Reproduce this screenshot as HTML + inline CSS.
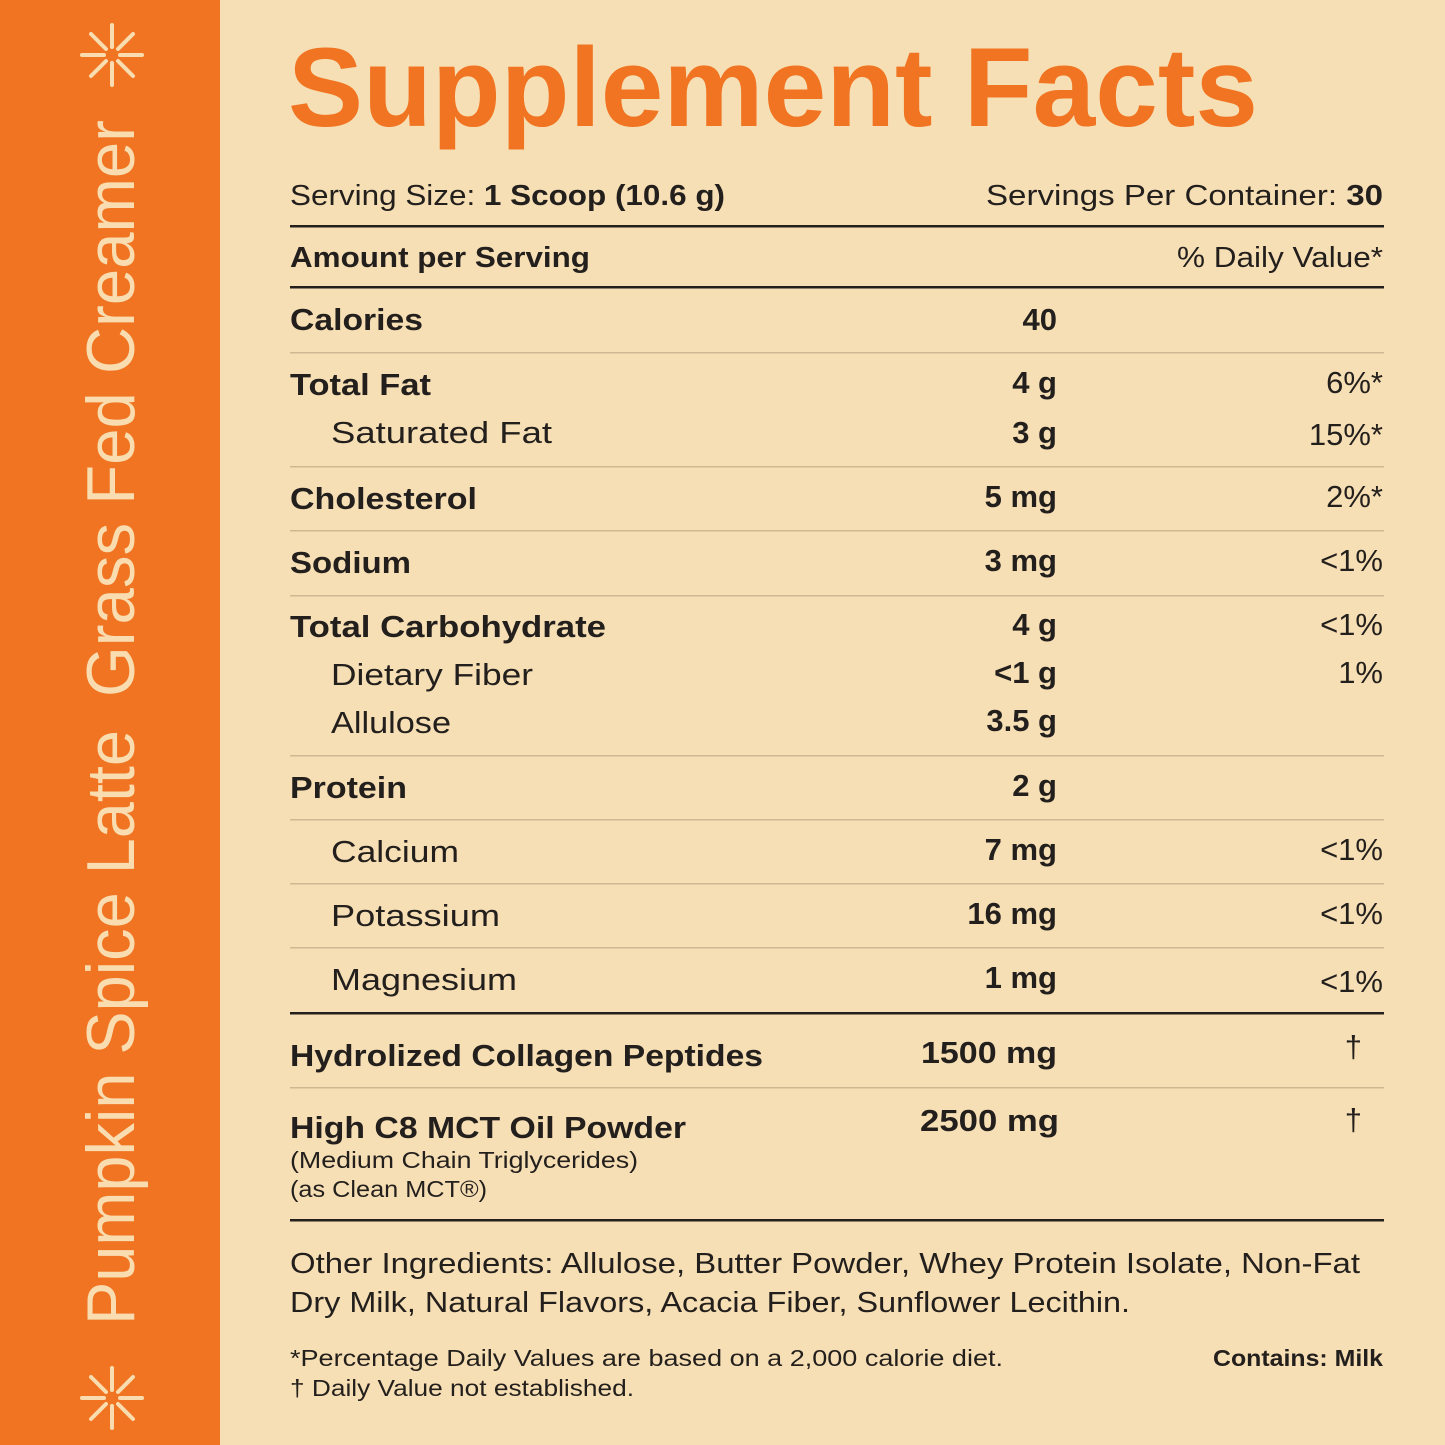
<!DOCTYPE html>
<html><head><meta charset="utf-8"><style>
html,body{margin:0;padding:0;background:#F7DFB5}
svg{display:block}
text{font-family:"Liberation Sans",sans-serif;fill:#231f1c}
.b{font-weight:bold}
.r{text-anchor:end}
</style></head><body>
<svg width="1445" height="1445" viewBox="0 0 1445 1445" xmlns="http://www.w3.org/2000/svg">
<rect width="1445" height="1445" fill="#F7DFB5"/>
<rect width="220" height="1445" fill="#F07421"/>
<g stroke="#F9DDB0" stroke-width="4" stroke-linecap="round">
<g transform="translate(112,55)">
<line x1="0" y1="-30" x2="0" y2="-8"/><line x1="0" y1="8" x2="0" y2="30"/>
<line x1="-30" y1="0" x2="-8" y2="0"/><line x1="8" y1="0" x2="30" y2="0"/>
<line x1="-21" y1="-21" x2="-6" y2="-6"/><line x1="6" y1="6" x2="21" y2="21"/>
<line x1="21" y1="-21" x2="6" y2="-6"/><line x1="-6" y1="6" x2="-21" y2="21"/>
</g>
<g transform="translate(112,1398)">
<line x1="0" y1="-30" x2="0" y2="-8"/><line x1="0" y1="8" x2="0" y2="30"/>
<line x1="-30" y1="0" x2="-8" y2="0"/><line x1="8" y1="0" x2="30" y2="0"/>
<line x1="-21" y1="-21" x2="-6" y2="-6"/><line x1="6" y1="6" x2="21" y2="21"/>
<line x1="21" y1="-21" x2="6" y2="-6"/><line x1="-6" y1="6" x2="-21" y2="21"/>
</g>
</g>
<g transform="translate(134,1325) rotate(-90)">
<text x="0" y="0" font-size="68" style="fill:#F9DDB0;font-weight:normal" textLength="595" lengthAdjust="spacingAndGlyphs">Pumpkin Spice Latte</text>
<text x="628" y="0" font-size="68" style="fill:#F9DDB0" textLength="577" lengthAdjust="spacingAndGlyphs">Grass Fed Creamer</text>
</g>
<text x="288" y="126" font-size="112" class="b" style="fill:#F07421" textLength="970" lengthAdjust="spacingAndGlyphs">Supplement Facts</text>

<text x="290" y="205" font-size="29" textLength="435" lengthAdjust="spacingAndGlyphs">Serving Size: <tspan class="b">1 Scoop (10.6 g)</tspan></text>
<text x="1383" y="205" font-size="29" class="r" textLength="397" lengthAdjust="spacingAndGlyphs">Servings Per Container: <tspan class="b">30</tspan></text>
<rect x="290" y="225" width="1094" height="2.5" fill="#231f1c"/>
<text x="290" y="267" font-size="29" class="b" textLength="300" lengthAdjust="spacingAndGlyphs">Amount per Serving</text>
<text x="1383" y="267" font-size="29" class="r" textLength="206" lengthAdjust="spacingAndGlyphs">% Daily Value*</text>
<rect x="290" y="286" width="1094" height="2.5" fill="#231f1c"/>

<g font-size="31">
<text x="290" y="330" class="b" textLength="133" lengthAdjust="spacingAndGlyphs">Calories</text><text x="1057" y="330" class="b r">40</text>
<text x="290" y="395" class="b" textLength="141" lengthAdjust="spacingAndGlyphs">Total Fat</text><text x="1057" y="393" class="b r">4 g</text><text x="1383" y="393" class="r">6%*</text>
<text x="331" y="443" textLength="221" lengthAdjust="spacingAndGlyphs">Saturated Fat</text><text x="1057" y="443" class="b r">3 g</text><text x="1383" y="445" class="r">15%*</text>
<text x="290" y="509" class="b" textLength="187" lengthAdjust="spacingAndGlyphs">Cholesterol</text><text x="1057" y="507" class="b r">5 mg</text><text x="1383" y="507" class="r">2%*</text>
<text x="290" y="573" class="b" textLength="121" lengthAdjust="spacingAndGlyphs">Sodium</text><text x="1057" y="571" class="b r">3 mg</text><text x="1383" y="571" class="r">&lt;1%</text>
<text x="290" y="637" class="b" textLength="316" lengthAdjust="spacingAndGlyphs">Total Carbohydrate</text><text x="1057" y="635" class="b r">4 g</text><text x="1383" y="635" class="r">&lt;1%</text>
<text x="331" y="685" textLength="202" lengthAdjust="spacingAndGlyphs">Dietary Fiber</text><text x="1057" y="683" class="b r">&lt;1 g</text><text x="1383" y="683" class="r">1%</text>
<text x="331" y="733" textLength="120" lengthAdjust="spacingAndGlyphs">Allulose</text><text x="1057" y="731" class="b r">3.5 g</text>
<text x="290" y="798" class="b" textLength="117" lengthAdjust="spacingAndGlyphs">Protein</text><text x="1057" y="796" class="b r">2 g</text>
<text x="331" y="862" textLength="128" lengthAdjust="spacingAndGlyphs">Calcium</text><text x="1057" y="860" class="b r">7 mg</text><text x="1383" y="860" class="r">&lt;1%</text>
<text x="331" y="926" textLength="169" lengthAdjust="spacingAndGlyphs">Potassium</text><text x="1057" y="924" class="b r">16 mg</text><text x="1383" y="924" class="r">&lt;1%</text>
<text x="331" y="990" textLength="186" lengthAdjust="spacingAndGlyphs">Magnesium</text><text x="1057" y="988" class="b r">1 mg</text><text x="1383" y="992" class="r">&lt;1%</text>
<text x="290" y="1066" class="b" textLength="473" lengthAdjust="spacingAndGlyphs">Hydrolized Collagen Peptides</text><text x="1057" y="1063" class="b r" textLength="136" lengthAdjust="spacingAndGlyphs">1500 mg</text><text x="1362" y="1057" class="r">†</text>
<text x="290" y="1138" class="b" textLength="396" lengthAdjust="spacingAndGlyphs">High C8 MCT Oil Powder</text><text x="1059" y="1131" class="b r" textLength="139" lengthAdjust="spacingAndGlyphs">2500 mg</text><text x="1362" y="1130" class="r">†</text>
</g>
<text x="290" y="1168" font-size="23" textLength="348" lengthAdjust="spacingAndGlyphs">(Medium Chain Triglycerides)</text>
<text x="290" y="1197" font-size="23" textLength="197" lengthAdjust="spacingAndGlyphs">(as Clean MCT®)</text>

<g fill="#cdb893">
<rect x="290" y="352" width="1094" height="1.5"/>
<rect x="290" y="466" width="1094" height="1.5"/>
<rect x="290" y="530" width="1094" height="1.5"/>
<rect x="290" y="595" width="1094" height="1.5"/>
<rect x="290" y="755" width="1094" height="1.5"/>
<rect x="290" y="819" width="1094" height="1.5"/>
<rect x="290" y="883" width="1094" height="1.5"/>
<rect x="290" y="947" width="1094" height="1.5"/>
<rect x="290" y="1087" width="1094" height="1.5"/>
</g>
<rect x="290" y="1012" width="1094" height="2.5" fill="#231f1c"/>
<rect x="290" y="1219" width="1094" height="2.5" fill="#231f1c"/>

<text x="290" y="1273" font-size="29" textLength="1070" lengthAdjust="spacingAndGlyphs">Other Ingredients: Allulose, Butter Powder, Whey Protein Isolate, Non-Fat</text>
<text x="290" y="1312" font-size="29" textLength="840" lengthAdjust="spacingAndGlyphs">Dry Milk, Natural Flavors, Acacia Fiber, Sunflower Lecithin.</text>
<text x="290" y="1366" font-size="23" textLength="713" lengthAdjust="spacingAndGlyphs">*Percentage Daily Values are based on a 2,000 calorie diet.</text>
<text x="290" y="1396" font-size="23" textLength="344" lengthAdjust="spacingAndGlyphs">† Daily Value not established.</text>
<text x="1383" y="1366" font-size="23" class="b r" textLength="170" lengthAdjust="spacingAndGlyphs">Contains: Milk</text>
</svg>
</body></html>
